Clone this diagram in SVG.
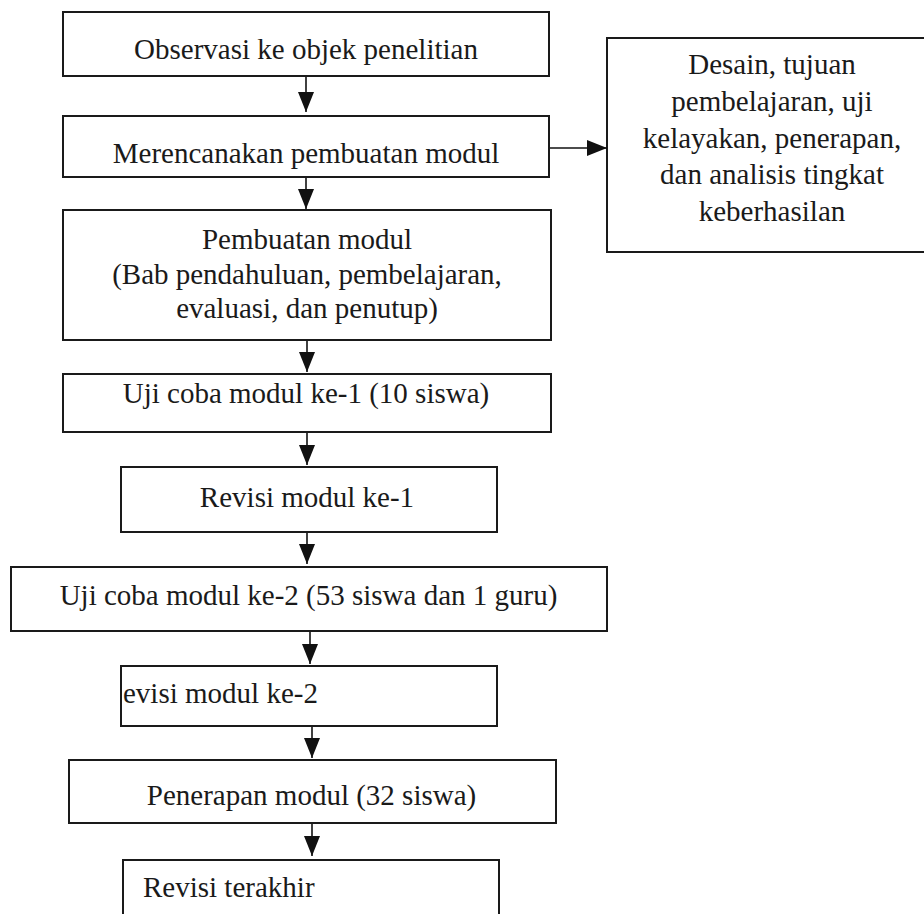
<svg xmlns="http://www.w3.org/2000/svg" width="924" height="914" viewBox="0 0 924 914">
<defs>
<marker id="ah" markerUnits="userSpaceOnUse" viewBox="0 0 20 16" refX="20" refY="8" markerWidth="20" markerHeight="16" orient="auto">
<path d="M0,0 L20,8 L0,16 z" fill="#111"/>
</marker>
<style>
.box{fill:#fff;stroke:#1a1a1a;stroke-width:2}
.t{font-family:"Liberation Serif","Times New Roman",serif;font-size:29px;fill:#1a1a1a}
.c{text-anchor:middle}
.conn{stroke:#111;stroke-width:1.6;fill:none;marker-end:url(#ah)}
</style>
</defs>
<rect width="924" height="914" fill="#fff"/>
<g id="n1"><rect class="box" x="63" y="12" width="486" height="64"/><text class="t c" x="306" y="59">Observasi ke objek penelitian</text></g>
<g id="n2"><rect class="box" x="63" y="116" width="486" height="61"/><text class="t c" x="306" y="163">Merencanakan pembuatan modul</text></g>
<g id="n3"><rect class="box" x="607" y="38" width="330" height="214"/>
<text class="t c" x="772" y="74">Desain, tujuan</text>
<text class="t c" x="772" y="111">pembelajaran, uji</text>
<text class="t c" x="772" y="148">kelayakan, penerapan,</text>
<text class="t c" x="772" y="184">dan analisis tingkat</text>
<text class="t c" x="772" y="221">keberhasilan</text></g>
<g id="n4"><rect class="box" x="63" y="210" width="488" height="130"/>
<text class="t c" x="307" y="249">Pembuatan modul</text>
<text class="t c" x="307" y="284">(Bab pendahuluan, pembelajaran,</text>
<text class="t c" x="307" y="318">evaluasi, dan penutup)</text></g>
<g id="n5"><rect class="box" x="63" y="374" width="488" height="58"/><text class="t c" x="306" y="403">Uji coba modul ke-1 (10 siswa)</text></g>
<g id="n6"><rect class="box" x="121" y="467" width="376" height="65"/><text class="t c" x="307" y="507">Revisi modul ke-1</text></g>
<g id="n7"><rect class="box" x="11" y="567" width="596" height="64"/><text class="t c" x="308.5" y="605">Uji coba modul ke-2 (53 siswa dan 1 guru)</text></g>
<g id="n8"><rect class="box" x="121" y="666" width="376" height="60"/><text class="t" x="123" y="703">evisi modul ke-2</text></g>
<g id="n9"><rect class="box" x="69" y="760" width="487" height="63"/><text class="t c" x="311.5" y="805">Penerapan modul (32 siswa)</text></g>
<g id="n10"><rect class="box" x="123" y="860" width="376" height="80"/><text class="t" x="143" y="897">Revisi terakhir</text></g>
<g id="connectors">
<line class="conn" x1="306" y1="77" x2="306" y2="112"/>
<line class="conn" x1="306" y1="178" x2="306" y2="209"/>
<line class="conn" x1="307" y1="341" x2="307" y2="372"/>
<line class="conn" x1="307" y1="433" x2="307" y2="465"/>
<line class="conn" x1="307" y1="533" x2="307" y2="564"/>
<line class="conn" x1="310" y1="632" x2="310" y2="664"/>
<line class="conn" x1="312" y1="727" x2="312" y2="758"/>
<line class="conn" x1="312" y1="824" x2="312" y2="856"/>
<line class="conn" x1="550" y1="148" x2="607" y2="148"/>
</g>
</svg>
